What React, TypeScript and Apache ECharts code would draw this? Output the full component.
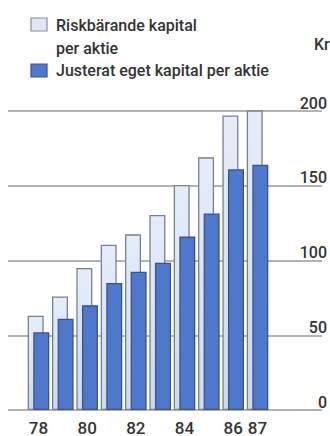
import React, { useEffect, useRef } from "react";
import * as echarts from "echarts";

const years = ["78", "79", "80", "81", "82", "83", "84", "85", "86", "87"];
const shownYears = ["78", "80", "82", "84", "86", "87"];
const riskCapital = [63, 76, 95, 110.5, 117.5, 130.5, 150.5, 169, 197, 201.5];
const adjustedEquity = [52, 61, 70, 85, 92.5, 98.5, 116, 131.5, 161, 164];
const legendNames = ["Riskbärande kapital\nper aktie", "Justerat eget kapital per aktie"];
const unitLabel = "Kr";

const FONT = "Roboto, 'Liberation Sans', sans-serif";
const TEXT = "#333333";

export default function App() {
  const ref = useRef<HTMLDivElement>(null);
  useEffect(() => {
    if (!ref.current) return;
    const chart = echarts.init(ref.current, undefined, { renderer: "svg" });
    const riskLines = legendNames[0].split("\n");
    chart.setOption({
      animation: false,
      backgroundColor: "#ffffff",
      textStyle: { fontFamily: FONT },
      grid: [
        { left: 8, right: 0, top: 111, bottom: 26 },
        { left: 26.3, right: 60.3, top: 111, bottom: 26 },
      ],
      xAxis: [
        { type: "value", gridIndex: 0, show: false, min: 0, max: 1 },
        {
          type: "category",
          gridIndex: 1,
          data: years,
          axisLine: { show: false },
          axisTick: { show: false },
          axisLabel: {
            interval: (i: number) => shownYears.includes(years[i]),
            fontSize: 17,
            fontWeight: 500,
            color: TEXT,
            fontFamily: FONT,
            margin: 9,
          },
        },
      ],
      yAxis: [
        {
          type: "value",
          gridIndex: 0,
          position: "right",
          min: 0,
          max: 200,
          interval: 50,
          axisLine: { show: false },
          axisTick: { show: false },
          splitLine: { show: true, lineStyle: { color: "#9a9a9a", width: 1.5 } },
          axisLabel: {
            inside: true,
            align: "right",
            verticalAlign: "bottom",
            margin: -5,
            fontSize: 16,
            fontWeight: 500,
            color: TEXT,
            fontFamily: FONT,
          },
        },
        { type: "value", gridIndex: 1, min: 0, max: 200, interval: 50, show: false },
      ],
      series: [
        {
          type: "bar",
          name: legendNames[0],
          xAxisIndex: 1,
          yAxisIndex: 1,
          data: riskCapital,
          barWidth: 16,
          barGap: "-65%",
          itemStyle: {
            color: new echarts.graphic.LinearGradient(0, 0, 0, 1, [
              { offset: 0, color: "#e6edf9" },
              { offset: 1, color: "#ccdaf1" },
            ]),
            borderColor: "#7a8090",
            borderWidth: 1.3,
          },
        },
        {
          type: "bar",
          name: legendNames[1],
          xAxisIndex: 1,
          yAxisIndex: 1,
          data: adjustedEquity,
          barWidth: 16,
          barGap: "-65%",
          itemStyle: {
            color: "#4f78cc",
            borderColor: "#3d5289",
            borderWidth: 1.3,
          },
        },
      ],
      graphic: [
        {
          type: "rect",
          shape: { x: 31, y: 18, width: 16, height: 13 },
          style: { fill: "#e0e8f6", stroke: "#8a8f9c", lineWidth: 1.2 },
        },
        {
          type: "text",
          x: 56,
          y: 25,
          style: { text: riskLines[0], fill: TEXT, font: `500 16px ${FONT}`, textVerticalAlign: "middle" },
        },
        {
          type: "text",
          x: 56,
          y: 48,
          style: { text: riskLines[1], fill: TEXT, font: `500 16px ${FONT}`, textVerticalAlign: "middle" },
        },
        {
          type: "rect",
          shape: { x: 31, y: 64, width: 16, height: 13 },
          style: { fill: "#5079cc", stroke: "#3d5289", lineWidth: 1.2 },
        },
        {
          type: "text",
          x: 56,
          y: 70.5,
          style: { text: legendNames[1], fill: TEXT, font: `500 16px ${FONT}`, textVerticalAlign: "middle" },
        },
        {
          type: "text",
          x: 314,
          y: 44,
          style: { text: unitLabel, fill: TEXT, font: `500 16px ${FONT}`, textVerticalAlign: "middle" },
        },
      ],
    });
    return () => chart.dispose();
  }, []);
  return (
    <div
      ref={ref}
      style={{ position: "absolute", left: 0, top: 0, width: 330, height: 436 }}
    />
  );
}
